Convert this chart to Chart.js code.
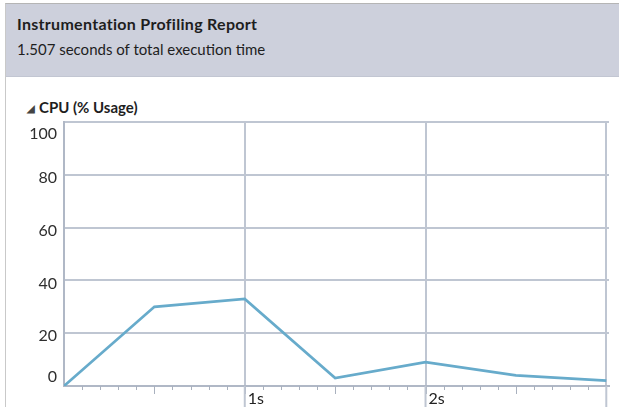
<!DOCTYPE html>
<html>
<head>
<meta charset="utf-8">
<script src="https://cdn.jsdelivr.net/npm/chart.js@4"></script>
<style>
  html, body { margin: 0; padding: 0; background: #fff; }
  body { width: 619px; height: 407px; position: relative; overflow: hidden; font-family: Lato, "Noto Sans", sans-serif; }
  .frame { position: absolute; left: 5px; top: 3px; width: 614px; height: 404px; border-left: 1px solid #c9c9c9; border-top: 1px solid #b5b5b5; }
  .header { position: absolute; left: 6px; top: 4px; width: 613px; height: 72px; background: #cdd0dc; border-bottom: 1px solid #c2c6d2; }
  .title { position: absolute; left: 17px; top: 14px; font-size: 16px; letter-spacing: 0.3px; font-weight: 700; color: #1e1e1e; white-space: nowrap; }
  .sub { position: absolute; left: 17px; top: 40px; font-size: 15px; color: #1e1e1e; white-space: nowrap; }
  .section { position: absolute; left: 27px; top: 98px; font-size: 15px; font-weight: 700; color: #1e1e1e; white-space: nowrap; }
  .section .tri { font-size: 10px; color: #444; margin-right: 4px; position: relative; top: -1px; }
  #wrap { position: absolute; left: 0; top: 0; width: 619px; height: 407px; }
</style>
</head>
<body>
<div class="frame"></div>
<div class="header"></div>
<div class="title">Instrumentation Profiling Report</div>
<div class="sub">1.507 seconds of total execution time</div>
<div class="section"><span class="tri">◢</span>CPU (% Usage)</div>
<div id="wrap"><canvas id="cpuChart" width="619" height="407"></canvas></div>
<script>
// samples every half second
const times = [0, 0.5, 1, 1.5, 2, 2.5, 3];
const cpuUsage = [0, 30, 33, 3, 9, 4, 2];
const yTicks = [0, 20, 40, 60, 80, 100];
const secondMarks = [1, 2, 3];
const secondLabels = ["1s", "2s", ""];

const gridColor = "#bfc6d2";
const tickColor = "#a9b1be";
const lineColor = "#67abcb";

// y labels, x minor ticks and second labels
const axisDecor = {
  id: "axisDecor",
  afterDraw(chart) {
    const { ctx, chartArea: a, scales: { x, y } } = chart;
    ctx.save();
    ctx.font = "16px Lato, 'Noto Sans', sans-serif";
    ctx.fillStyle = "#2e2e2e";
    ctx.textAlign = "right";
    ctx.textBaseline = "middle";
    yTicks.forEach(v => {
      let py = y.getPixelForValue(v) + 3;
      py = Math.max(a.top + 12, Math.min(a.bottom - 9, py));
      ctx.fillText(String(v), a.left - 7, py);
    });

    ctx.strokeStyle = tickColor;
    ctx.lineWidth = 1;
    for (let i = 1; i < 30; i++) {
      const px = Math.round(x.getPixelForValue(i / 10)) + 0.5;
      const len = i % 5 === 0 ? 8 : 4;
      ctx.beginPath();
      ctx.moveTo(px, a.bottom);
      ctx.lineTo(px, a.bottom + len);
      ctx.stroke();
    }

    ctx.strokeStyle = gridColor;
    ctx.lineWidth = 2;
    secondMarks.forEach(s => {
      const px = x.getPixelForValue(s);
      ctx.beginPath();
      ctx.moveTo(px, a.bottom);
      ctx.lineTo(px, chart.height);
      ctx.stroke();
    });

    ctx.fillStyle = "#222";
    ctx.textAlign = "left";
    secondMarks.forEach((s, i) => {
      ctx.fillText(secondLabels[i], x.getPixelForValue(s) + 3, a.bottom + 13);
    });
    ctx.restore();
  }
};

new Chart(document.getElementById("cpuChart").getContext("2d"), {
  type: "line",
  data: {
    datasets: [{
      label: "CPU (% Usage)",
      data: times.map((t, i) => ({ x: t, y: cpuUsage[i] })),
      borderColor: lineColor,
      borderWidth: 2.7,
      pointRadius: 0,
      tension: 0,
      fill: false
    }]
  },
  options: {
    responsive: false,
    animation: false,
    layout: { padding: { left: 64, top: 122, right: 10, bottom: 21 } },
    plugins: { legend: { display: false }, tooltip: { enabled: false } },
    scales: {
      x: {
        type: "linear",
        min: 0,
        max: 3.015,
        afterBuildTicks: s => { s.ticks = [0, ...secondMarks].map(v => ({ value: v })); },
        ticks: { display: false },
        grid: { color: gridColor, lineWidth: 2, drawTicks: false },
        border: { display: true, color: "#b0b8c6", width: 2 }
      },
      y: {
        min: 0,
        max: 100,
        afterBuildTicks: s => { s.ticks = yTicks.map(v => ({ value: v })); },
        ticks: { display: false },
        grid: { color: gridColor, lineWidth: 2, drawTicks: false },
        border: { display: true, color: "#b0b8c6", width: 2 }
      }
    }
  },
  plugins: [axisDecor]
});
</script>
</body>
</html>
